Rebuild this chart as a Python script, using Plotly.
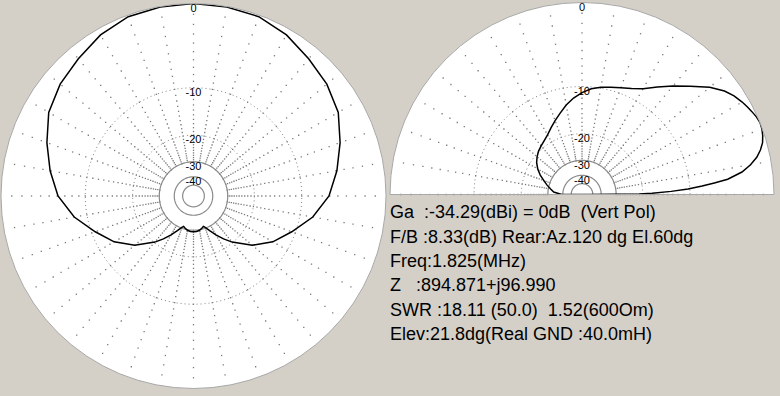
import plotly.graph_objects as go
import numpy as np

BG = "#d4d0c8"

# ---------------- data ----------------
# Azimuth pattern (degrees clockwise from top) in dB
az_deg = [0, 10, 20, 30, 40, 50, 60, 70, 80, 90, 100, 110, 120, 130, 140, 145, 150, 155, 160, 162, 165, 170, 175, 180,
          185, 190, 195, 198, 200, 205, 210, 215, 220, 230, 240, 250, 260, 270, 280, 290, 300, 310, 320, 330, 340, 350, 360]
az_db = [0.0, -0.05, -0.15, -0.6, -1.25, -1.75, -2.45, -3.65, -4.85, -6.1, -8.05, -10.6, -12.9, -16.0, -20.2,
         -22.6, -25.3, -28.1, -30.6, -31.2, -30.6, -29.7, -29.3, -29.2,
         -29.3, -29.7, -30.6, -31.2, -30.6, -28.1, -25.3, -22.6, -20.2, -16.0, -12.9, -10.6, -8.05, -6.1, -4.85, -3.65,
         -2.45, -1.75, -1.25, -0.6, -0.15, -0.05, 0.0]

# Elevation pattern (degrees above horizon, 0 = forward/right) in dB
el_deg = [0, 0.5, 1, 2, 3, 4, 5, 6, 8, 10, 12, 14, 16, 18, 20, 22, 24, 26, 28, 30, 33, 36, 40, 45, 50, 55, 60,
          65, 70, 75, 80, 85, 90, 95, 100, 105, 110, 115, 120, 125, 130, 135, 140, 145, 150, 155, 160, 165,
          170, 175, 180]
el_db = [-60, -21.0, -17.5, -13.3, -10.3, -8.1, -6.4, -4.7, -3.0, -2.0, -1.25, -0.75, -0.38, -0.18, -0.05, 0.0,
         -0.1, -0.27, -0.45, -0.65, -1.0, -1.5, -2.45, -3.95, -5.3, -6.6, -7.85, -8.6, -9.1, -9.5, -9.85,
         -10.3, -11.0, -11.9, -13.0, -14.3, -15.5, -16.7, -17.8, -18.6, -19.2, -19.8, -20.6, -21.6, -23.0,
         -24.8, -27.0, -29.0, -31.2, -33.2, -39.0]

ring_dotted_db = [-10, -20]
ring_solid_db = [-30, -40, -50]
label_db = [0, -10, -20, -30, -40]
label_txt = ["0", "-10", "-20", "-30", "-40"]
spoke_step = 10
spoke_db = list(range(-30, 0))

info_lines = [
    "Ga\u00a0\u00a0:-34.29(dBi) = 0dB\u00a0\u00a0(Vert Pol)",
    "F/B :8.33(dB) Rear:Az.120 dg El.60dg",
    "Freq:1.825(MHz)",
    "Z\u00a0\u00a0\u00a0:894.871+j96.990",
    "SWR :18.11 (50.0)\u00a0\u00a01.52(600Om)",
    "Elev:21.8dg(Real GND :40.0mH)",
]
info_y_px = [212, 237, 261, 285, 310, 334]


def amp(db):
    return [10 ** (d / 40.0) for d in db]


def grid_traces(subplot, theta_max, label_theta):
    traces = []
    circ = list(np.arange(0, theta_max + 0.1, 2.0))
    # spokes: one dot per dB
    st, sr = [], []
    for a in range(0, theta_max + 1 if theta_max < 360 else 360, spoke_step):
        for d in spoke_db:
            st.append(a)
            sr.append(10 ** (d / 40.0))
    traces.append(go.Scatterpolar(r=sr, theta=st, mode="markers", subplot=subplot,
                                  marker=dict(symbol="square", size=1.3, color="#7a7a7a",
                                              line=dict(width=0)),
                                  hoverinfo="skip", showlegend=False))
    # dotted rings
    t, r = [], []
    for d in ring_dotted_db:
        t += circ + [None]
        r += [10 ** (d / 40.0)] * len(circ) + [None]
    traces.append(go.Scatterpolar(r=r, theta=t, mode="lines", subplot=subplot,
                                  line=dict(color="#808080", width=1, dash="1px,3px"),
                                  hoverinfo="skip", showlegend=False))
    # solid rings
    t, r = [], []
    for d in ring_solid_db:
        t += circ + [None]
        r += [10 ** (d / 40.0)] * len(circ) + [None]
    traces.append(go.Scatterpolar(r=r, theta=t, mode="lines", subplot=subplot,
                                  line=dict(color="#8a8a8a", width=1.2),
                                  hoverinfo="skip", showlegend=False))
    # ring labels
    traces.append(go.Scatterpolar(r=amp(label_db), theta=[label_theta] * len(label_db),
                                  mode="text", text=label_txt, textposition="bottom center",
                                  subplot=subplot,
                                  marker=dict(color="#000000"),
                                  textfont=dict(family="Liberation Sans, Arial", size=11,
                                                color=["#000000"] * len(label_db)),
                                  hoverinfo="skip", showlegend=False))
    return traces


fig = go.Figure()
for tr in grid_traces("polar", 360, 0):
    fig.add_trace(tr)
for tr in grid_traces("polar2", 180, 90):
    fig.add_trace(tr)

# azimuth pattern
fig.add_trace(go.Scatterpolar(r=amp(az_db), theta=az_deg, mode="lines", subplot="polar",
                              line=dict(color="black", width=1.5),
                              hoverinfo="skip", showlegend=False))
# elevation pattern lobe
fig.add_trace(go.Scatterpolar(r=amp(el_db), theta=el_deg, mode="lines", subplot="polar2",
                              line=dict(color="black", width=1.5),
                              hoverinfo="skip", showlegend=False))
# closing segment along the ground line
fig.add_trace(go.Scatterpolar(r=amp([el_db[-1], el_db[0]]), theta=[el_deg[-1], el_deg[0]], mode="lines",
                              subplot="polar2", line=dict(color="black", width=1.5),
                              hoverinfo="skip", showlegend=False))

W, H = 780, 396
axis_common = dict(showgrid=False, showticklabels=False, ticks="", showline=True,
                   linecolor="#a8a8a8", linewidth=1)
rad_common = dict(range=[0, 1], showgrid=False, showticklabels=False, ticks="", showline=False)

fig.update_layout(
    width=W, height=H, margin=dict(l=0, r=0, t=0, b=0),
    paper_bgcolor=BG, plot_bgcolor=BG,
    font=dict(color="#000000"),
    polar=dict(domain=dict(x=[1 / W, 386 / W], y=[1 - 388.5 / H, 1 - 3.5 / H]),
               bgcolor="white",
               angularaxis=dict(rotation=90, direction="clockwise", **axis_common),
               radialaxis=rad_common),
    polar2=dict(domain=dict(x=[390 / W, 774 / W], y=[1 - 194.5 / H, 1 - 2.5 / H]),
                bgcolor="white", sector=[0, 180],
                angularaxis=dict(rotation=0, direction="counterclockwise", **axis_common),
                radialaxis=rad_common),
)

for txt, ypx in zip(info_lines, info_y_px):
    fig.add_annotation(x=388 / W, y=1 - ypx / H, xref="paper", yref="paper",
                       xanchor="left", yanchor="middle", showarrow=False, text=txt,
                       font=dict(family="Liberation Sans, Arial", size=18, color="black"))

fig.write_html("out.html")
